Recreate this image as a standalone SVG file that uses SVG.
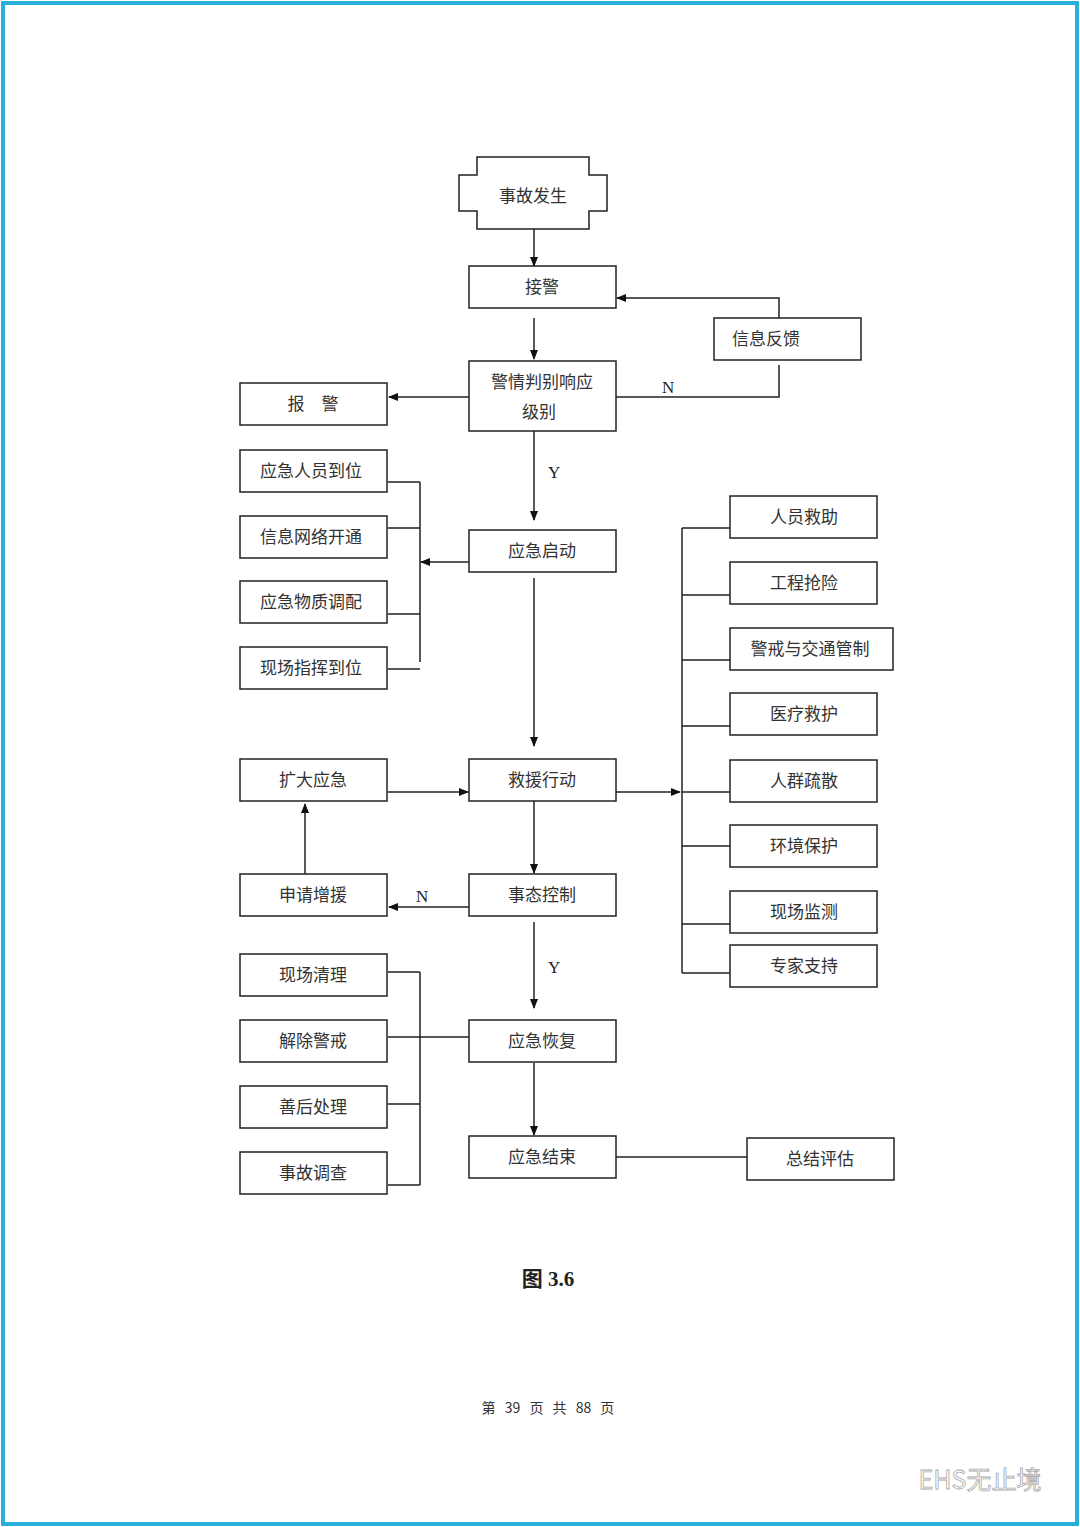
<svg xmlns="http://www.w3.org/2000/svg" width="1080" height="1527" viewBox="0 0 1080 1527">
<style>
.b{fill:#fff;stroke:#222;stroke-width:1.5}
.t{font-family:"Liberation Serif","Noto Sans CJK SC",serif;font-size:17px;fill:#333;text-anchor:middle}
.l{fill:none;stroke:#222;stroke-width:1.5}
.a{fill:none;stroke:#222;stroke-width:1.5;marker-end:url(#ar)}
.y{font-family:"Liberation Serif",serif;font-size:17px;fill:#222}
</style>
<defs><marker id="ar" markerWidth="10" markerHeight="10" refX="9" refY="5" orient="auto" markerUnits="userSpaceOnUse"><path d="M0,1 L10,5 L0,9 z" fill="#111"/></marker></defs>
<rect x="0" y="0" width="1080" height="1527" fill="#fff"/>
<rect x="3" y="3" width="1074" height="1521" fill="none" stroke="#2aaedb" stroke-width="4"/>
<g id="n0"><polygon class="b" points="477,157 589,157 589,175 607,175 607,211 589,211 589,229 477,229 477,211 459,211 459,175 477,175"/><text class="t" x="533" y="202">事故发生</text></g>
<g id="n1"><rect class="b" x="469" y="266" width="147" height="42"/><text class="t" x="542" y="293">接警</text></g>
<g id="n2"><rect class="b" x="714" y="318" width="147" height="42"/><text class="t" x="766" y="345">信息反馈</text></g>
<g id="n3"><rect class="b" x="469" y="361" width="147" height="70"/><text class="t" x="542" y="388">警情判别响应</text><text class="t" x="539" y="418">级别</text></g>
<g id="n4"><rect class="b" x="240" y="383" width="147" height="42"/><text class="t" x="313" y="410" xml:space="preserve">报    警</text></g>
<g id="n5"><rect class="b" x="240" y="450" width="147" height="42"/><text class="t" x="311" y="477">应急人员到位</text></g>
<g id="n6"><rect class="b" x="240" y="516" width="147" height="42"/><text class="t" x="311" y="543">信息网络开通</text></g>
<g id="n7"><rect class="b" x="240" y="581" width="147" height="42"/><text class="t" x="311" y="608">应急物质调配</text></g>
<g id="n8"><rect class="b" x="240" y="647" width="147" height="42"/><text class="t" x="311" y="674">现场指挥到位</text></g>
<g id="n9"><rect class="b" x="469" y="530" width="147" height="42"/><text class="t" x="542" y="557">应急启动</text></g>
<g id="n10"><rect class="b" x="730" y="496" width="147" height="42"/><text class="t" x="804" y="523">人员救助</text></g>
<g id="n11"><rect class="b" x="730" y="562" width="147" height="42"/><text class="t" x="804" y="589">工程抢险</text></g>
<g id="n12"><rect class="b" x="730" y="628" width="163" height="42"/><text class="t" x="810" y="655">警戒与交通管制</text></g>
<g id="n13"><rect class="b" x="730" y="693" width="147" height="42"/><text class="t" x="804" y="720">医疗救护</text></g>
<g id="n14"><rect class="b" x="730" y="760" width="147" height="42"/><text class="t" x="804" y="787">人群疏散</text></g>
<g id="n15"><rect class="b" x="730" y="825" width="147" height="42"/><text class="t" x="804" y="852">环境保护</text></g>
<g id="n16"><rect class="b" x="730" y="891" width="147" height="42"/><text class="t" x="804" y="918">现场监测</text></g>
<g id="n17"><rect class="b" x="730" y="945" width="147" height="42"/><text class="t" x="804" y="972">专家支持</text></g>
<g id="n18"><rect class="b" x="469" y="759" width="147" height="42"/><text class="t" x="542" y="786">救援行动</text></g>
<g id="n19"><rect class="b" x="240" y="759" width="147" height="42"/><text class="t" x="313" y="786">扩大应急</text></g>
<g id="n20"><rect class="b" x="469" y="874" width="147" height="42"/><text class="t" x="542" y="901">事态控制</text></g>
<g id="n21"><rect class="b" x="240" y="874" width="147" height="42"/><text class="t" x="313" y="901">申请增援</text></g>
<g id="n22"><rect class="b" x="240" y="954" width="147" height="42"/><text class="t" x="313" y="981">现场清理</text></g>
<g id="n23"><rect class="b" x="240" y="1020" width="147" height="42"/><text class="t" x="313" y="1047">解除警戒</text></g>
<g id="n24"><rect class="b" x="240" y="1086" width="147" height="42"/><text class="t" x="313" y="1113">善后处理</text></g>
<g id="n25"><rect class="b" x="240" y="1152" width="147" height="42"/><text class="t" x="313" y="1179">事故调查</text></g>
<g id="n26"><rect class="b" x="469" y="1020" width="147" height="42"/><text class="t" x="542" y="1047">应急恢复</text></g>
<g id="n27"><rect class="b" x="469" y="1136" width="147" height="42"/><text class="t" x="542" y="1163">应急结束</text></g>
<g id="n28"><rect class="b" x="747" y="1138" width="147" height="42"/><text class="t" x="820" y="1165">总结评估</text></g>
<g id="edges">
<path class="a" d="M534,229 V266"/>
<path class="a" d="M534,318 V359"/>
<path class="l" d="M616,397 H779 V365"/>
<path class="a" d="M779,318 V298 H617"/>
<path class="a" d="M469,397 H389"/>
<path class="a" d="M534,431 V520"/>
<path class="l" d="M388,482 H420 M388,528 H420 M388,614 H420 M388,669 H420 M420,482 V662"/>
<path class="a" d="M469,562 H421"/>
<path class="a" d="M534,578 V746"/>
<path class="a" d="M616,792 H680"/>
<path class="l" d="M682,528 V973 M682,528 H730 M682,595 H730 M682,660 H730 M682,726 H730 M682,792 H730 M682,846 H730 M682,924 H730 M682,973 H730"/>
<path class="a" d="M388,792 H468"/>
<path class="a" d="M534,801 V873"/>
<path class="a" d="M469,907 H389"/>
<path class="a" d="M305,874 V804"/>
<path class="a" d="M534,922 V1008"/>
<path class="l" d="M388,972 H420 M388,1104 H420 M388,1185 H420 M420,972 V1185 M388,1037 H469"/>
<path class="a" d="M534,1063 V1135"/>
<path class="l" d="M616,1157 H747"/>
</g>
<text class="y" x="662" y="393">N</text>
<text class="y" x="548" y="478">Y</text>
<text class="y" x="416" y="902">N</text>
<text class="y" x="548" y="973">Y</text>
<text x="548" y="1286" style="font-family:'Liberation Serif','Noto Sans CJK SC',serif;font-size:21px;font-weight:bold;fill:#222;text-anchor:middle">图 3.6</text>
<text x="548" y="1413" style="font-family:'Noto Sans CJK SC',sans-serif;font-size:14px;fill:#333;text-anchor:middle;word-spacing:6px" xml:space="preserve">第 39 页 共 88 页</text>
<text x="980" y="1489" style="font-family:'Noto Sans CJK SC',sans-serif;font-size:25px;fill:#fff;stroke:#aaa;stroke-width:0.8;text-anchor:middle">EHS无止境</text>
</svg>
